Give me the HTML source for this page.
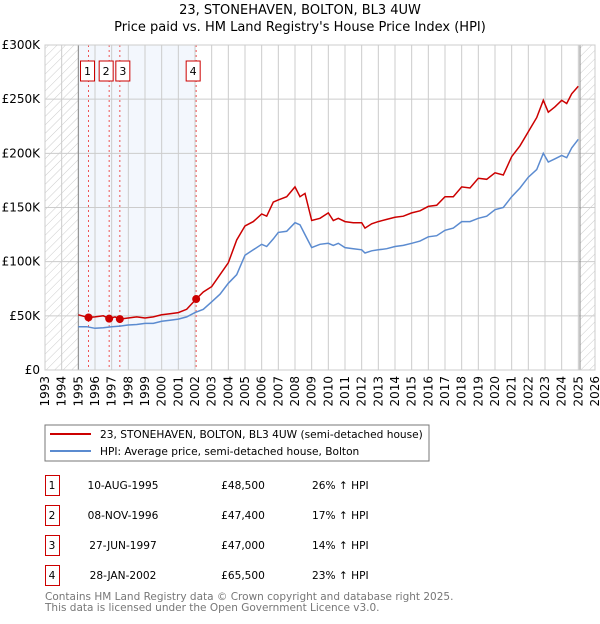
<!DOCTYPE html>
<html><head><meta charset="utf-8"><style>
body{margin:0;background:#fff;font-family:"DejaVu Sans","Liberation Sans",sans-serif;}
svg text{font-family:"DejaVu Sans","Liberation Sans",sans-serif;}
</style></head><body>
<svg id="c" width="600" height="620" xmlns="http://www.w3.org/2000/svg">
<defs><pattern id="h" width="6" height="6" patternUnits="userSpaceOnUse" patternTransform="rotate(45)"><line x1="0" y1="0" x2="0" y2="6" stroke="#ccc" stroke-width="1"/></pattern></defs>
<text x="300" y="14" text-anchor="middle" font-size="13">23, STONEHAVEN, BOLTON, BL3 4UW</text>
<text x="300" y="31" text-anchor="middle" font-size="13">Price paid vs. HM Land Registry's House Price Index (HPI)</text>
<g id="plot"></g>
<rect x="45" y="425" width="384" height="36" fill="#fff" stroke="#777"/>
<line x1="50" y1="434" x2="91" y2="434" stroke="#cc0000" stroke-width="2"/>
<text x="100" y="438" font-size="10.6">23, STONEHAVEN, BOLTON, BL3 4UW (semi-detached house)</text>
<line x1="50" y1="451" x2="91" y2="451" stroke="#5b8bd0" stroke-width="2"/>
<text x="100" y="455" font-size="10.6">HPI: Average price, semi-detached house, Bolton</text>
<g id="table" font-size="10.6"></g>
<text x="45" y="600" font-size="10.5" fill="#777">Contains HM Land Registry data © Crown copyright and database right 2025.</text>
<text x="45" y="611" font-size="10.5" fill="#777">This data is licensed under the Open Government Licence v3.0.</text>
</svg>
<script>
const hpiYears=[1995,1995.5,1996,1996.5,1997,1997.5,1998,1998.5,1999,1999.5,2000,2000.5,2001,2001.5,2002,2002.5,2003,2003.5,2004,2004.5,2005,2005.5,2006,2006.3,2006.7,2007,2007.5,2008,2008.3,2008.6,2009,2009.5,2010,2010.3,2010.6,2011,2011.5,2012,2012.2,2012.6,2013,2013.5,2014,2014.5,2015,2015.5,2016,2016.5,2017,2017.5,2018,2018.5,2019,2019.5,2020,2020.5,2021,2021.5,2022,2022.5,2022.9,2023.2,2023.6,2024,2024.3,2024.6,2025];
const hpiValues=[40,40,38.5,39,40,40.5,41.5,42,43,43,45,46,47,49,53,56,63,70,80,88,106,111,116,114,121,127,128,136,134,125,113,116,117,115,117,113,112,111,108,110,111,112,114,115,117,119,123,124,129,131,137,137,140,142,148,150,160,168,178,185,200,192,195,198,196,205,213];
const ppYears=[1995,1995.6,1996,1996.5,1996.85,1997.2,1997.5,1998,1998.5,1999,1999.5,2000,2000.5,2001,2001.5,2002.07,2002.5,2003,2003.5,2004,2004.5,2005,2005.5,2006,2006.3,2006.7,2007,2007.5,2008,2008.3,2008.6,2009,2009.5,2010,2010.3,2010.6,2011,2011.5,2012,2012.2,2012.6,2013,2013.5,2014,2014.5,2015,2015.5,2016,2016.5,2017,2017.5,2018,2018.5,2019,2019.5,2020,2020.5,2021,2021.5,2022,2022.5,2022.9,2023.2,2023.6,2024,2024.3,2024.6,2025];
const ppValues=[51,48.5,49,50,47.4,49,47,48,49,48,49,51,52,53,56,65.5,72,77,88,99,120,133,137,144,142,155,157,160,169,160,163,138,140,145,138,140,137,136,136,131,135,137,139,141,142,145,147,151,152,160,160,169,168,177,176,182,180,197,207,220,233,249,238,243,249,246,255,262];
const saleYears=[1995.61,1996.85,1997.49,2002.07];
const saleValues=[48.5,47.4,47.0,65.5];
const saleLabels=["1","2","3","4"];
const saleDates=["10-AUG-1995","08-NOV-1996","27-JUN-1997","28-JAN-2002"];
const salePrices=["£48,500","£47,400","£47,000","£65,500"];
const saleDiffs=["26% ↑ HPI","17% ↑ HPI","14% ↑ HPI","23% ↑ HPI"];
const yTicks=[0,50,100,150,200,250,300];
const yTickLabels=["£0","£50K","£100K","£150K","£200K","£250K","£300K"];
const xTicks=[1993,1994,1995,1996,1997,1998,1999,2000,2001,2002,2003,2004,2005,2006,2007,2008,2009,2010,2011,2012,2013,2014,2015,2016,2017,2018,2019,2020,2021,2022,2023,2024,2025,2026];

const NS="http://www.w3.org/2000/svg";
const X0=45,X1=595,Y0=370,Y1=45;
function xs(y){return X0+(y-1993)/(2026-1993)*(X1-X0);}
function ys(v){return Y0-v/300*(Y0-Y1);}
function mk(tag,attrs,parent){const e=document.createElementNS(NS,tag);for(const k in attrs)e.setAttribute(k,attrs[k]);parent.appendChild(e);return e;}
const g=document.getElementById('plot');
let r=mk('rect',{x:xs(1995),y:Y1,width:xs(2002.07)-xs(1995),height:Y0-Y1,fill:'#eef3fc',opacity:0.7},g);


r=mk('rect',{x:X0,y:Y1,width:xs(1995)-X0,height:Y0-Y1,fill:'url(#h)'},g);


r=mk('rect',{x:xs(2025.1),y:Y1,width:X1-xs(2025.1),height:Y0-Y1,fill:'url(#h)'},g);


xTicks.forEach(t=>{const l=mk('line',{x1:xs(t),x2:xs(t),y1:Y1,y2:Y0,stroke:'#ccc'},g);


const tx=mk('text',{x:0,y:0,'font-size':12,'text-anchor':'end',transform:`translate(${xs(t)+4},${Y0+6}) rotate(-90)`},g);tx.textContent=t;

});
yTicks.forEach((t,i)=>{const l=mk('line',{x1:X0,x2:X1,y1:ys(t),y2:ys(t),stroke:'#ccc'},g);


const tx=mk('text',{x:40,y:ys(t)+4,'font-size':12,'text-anchor':'end'},g);tx.textContent=yTickLabels[i];

});
[1995,2025.1].forEach(t=>{const l=mk('line',{x1:xs(t),x2:xs(t),y1:Y1,y2:Y0,stroke:'#888'},g);

});
saleYears.forEach((t,i)=>{const l=mk('line',{x1:xs(t),x2:xs(t),y1:Y1,y2:Y0,stroke:'#e55',"stroke-dasharray":"2,3"},g);

});
function path(xa,va,col,name){let d=xa.map((x,i)=>(i?'L':'M')+xs(x).toFixed(1)+','+ys(va[i]).toFixed(1)).join('');
const p=mk('path',{d:d,fill:'none',stroke:col,'stroke-width':1.5},g);

}
path(hpiYears,hpiValues,'#5b8bd0','hpi-line');
path(ppYears,ppValues,'#cc0000','property-price-line');
saleYears.forEach((t,i)=>{const c=mk('circle',{cx:xs(t),cy:ys(saleValues[i]),r:4,fill:'#cc0000'},g);

});
const lx=[xs(saleYears[0])-1,xs(saleYears[1])-3,xs(saleYears[2])+3,xs(saleYears[3])-3];
saleLabels.forEach((s,i)=>{const b=mk('rect',{x:lx[i]-7,y:61,width:14,height:20,fill:'#fff',stroke:'#cc0000'},g);


const tx=mk('text',{x:lx[i],y:75,'font-size':11,'text-anchor':'middle'},g);tx.textContent=s;

});
const bd=mk('rect',{x:X0,y:Y1,width:X1-X0,height:Y0-Y1,fill:'none',stroke:'#ccc'},g);


const tb=document.getElementById('table');
saleLabels.forEach((s,i)=>{const y=475+i*30;
const b=mk('rect',{x:45.5,y:y+0.5,width:14,height:20,fill:'#fff',stroke:'#cc0000'},tb);


const cells=[[52,s,'middle'],[123,saleDates[i],'middle'],[243,salePrices[i],'middle'],[312,saleDiffs[i],'start']];
cells.forEach(c=>{const tx=mk('text',{x:c[0],y:y+14,'text-anchor':c[2]},tb);tx.textContent=c[1];

});});
</script>
</body></html>
